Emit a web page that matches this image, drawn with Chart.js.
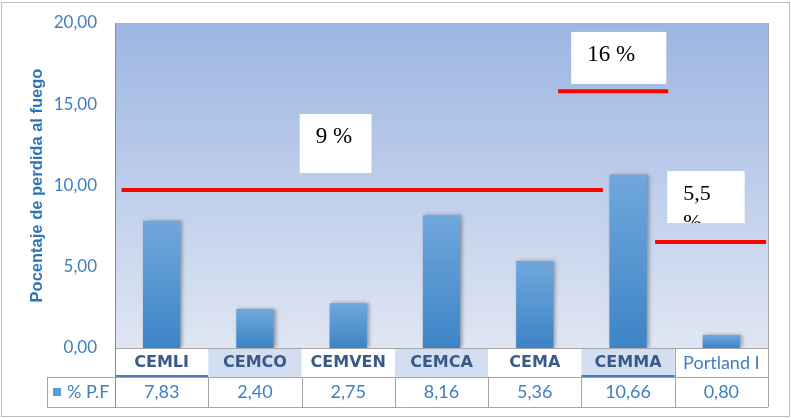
<!DOCTYPE html>
<html>
<head>
<meta charset="utf-8">
<script src="https://cdn.jsdelivr.net/npm/chart.js@4.4.0/dist/chart.umd.min.js"></script>
<style>
  html, body { margin: 0; padding: 0; background: #fff; }
  #wrap { width: 791px; height: 418px; position: relative; }
</style>
</head>
<body>
<div id="wrap"><canvas id="myChart"></canvas></div>
<script>
var categories = ['CEMLI', 'CEMCO', 'CEMVEN', 'CEMCA', 'CEMA', 'CEMMA', 'Portland I'];
var values = [7.83, 2.40, 2.75, 8.16, 5.36, 10.66, 0.80];
var seriesName = '% P.F';
var yTicks = [0, 5, 10, 15, 20];

// red limit lines (value on y axis, span in category units)
var limitValues = [9.72, 15.8, 6.52];
var limitFrom = [-0.43, 4.25, 5.29];
var limitTo = [4.73, 5.43, 6.48];

// white label boxes (text, category span, value span)
var boxTexts = [['9 %'], ['16 %'], ['5,5', '%']];
var boxFontSizes = [23, 23, 22];
var boxFrom = [1.48, 4.39, 5.42];
var boxTo = [2.25, 5.41, 6.25];
var boxTop = [14.4, 19.45, 10.89];
var boxBottom = [10.77, 16.25, 7.69];

function fmt(v) { return v.toFixed(2).replace('.', ','); }

var extras = {
    id: 'extras',
    beforeDraw: function(chart) {
        var ctx = chart.ctx, a = chart.chartArea;
        ctx.save();
        var g = ctx.createLinearGradient(0, a.top, 0, a.bottom);
        g.addColorStop(0, '#9cb5e2');
        g.addColorStop(1, '#dfe6f3');
        ctx.fillStyle = g;
        ctx.fillRect(a.left, a.top, a.right - a.left, a.bottom - a.top);
        // outer frame
        ctx.strokeStyle = '#bdbdbd';
        ctx.lineWidth = 1;
        ctx.strokeRect(1.5, 2.5, chart.width - 3, chart.height - 4);
        ctx.restore();
    },
    beforeDatasetDraw: function(chart) {
        var ctx = chart.ctx;
        ctx.save();
        ctx.shadowColor = 'rgba(0,0,0,0.35)';
        ctx.shadowBlur = 4;
        ctx.shadowOffsetX = 2;
        ctx.shadowOffsetY = 0;
    },
    afterDatasetDraw: function(chart) {
        chart.ctx.restore();
    },
    afterDatasetsDraw: function(chart) {
        var ctx = chart.ctx, x = chart.scales.x, y = chart.scales.y;
        ctx.save();
        // red lines
        ctx.strokeStyle = '#ff0000';
        ctx.lineWidth = 4;
        for (var i = 0; i < limitValues.length; i++) {
            var py = y.getPixelForValue(limitValues[i]);
            ctx.beginPath();
            ctx.moveTo(x.getPixelForValue(limitFrom[i]), py);
            ctx.lineTo(x.getPixelForValue(limitTo[i]), py);
            ctx.stroke();
        }
        // text boxes
        for (var j = 0; j < boxTexts.length; j++) {
            var l = x.getPixelForValue(boxFrom[j]), r = x.getPixelForValue(boxTo[j]);
            var t = y.getPixelForValue(boxTop[j]), b = y.getPixelForValue(boxBottom[j]);
            ctx.save();
            ctx.fillStyle = '#ffffff';
            ctx.fillRect(l, t, r - l, b - t);
            ctx.beginPath();
            ctx.rect(l, t, r - l, b - t);
            ctx.clip();
            ctx.fillStyle = '#000000';
            ctx.font = boxFontSizes[j] + 'px "Liberation Serif"';
            ctx.textBaseline = 'middle';
            ctx.textAlign = 'left';
            for (var k = 0; k < boxTexts[j].length; k++) {
                ctx.fillText(boxTexts[j][k], l + 16, t + 23 + k * 29);
            }
            ctx.restore();
        }
        ctx.restore();
    },
    afterDraw: function(chart) {
        var ctx = chart.ctx, x = chart.scales.x, a = chart.chartArea;
        var rowTop = a.bottom, rowMid = a.bottom + 29, rowBot = a.bottom + 59;
        ctx.save();
        // category label row
        for (var i = 0; i < categories.length; i++) {
            var l = x.getPixelForValue(i - 0.5), r = x.getPixelForValue(i + 0.5), c = x.getPixelForValue(i);
            if (i === 1 || i === 3 || i === 5) {
                ctx.fillStyle = '#d3dff0';
                ctx.fillRect(l, rowTop, r - l, rowMid - rowTop);
            }
            if (i === 0 || i === 5) {
                ctx.fillStyle = '#4a7ebb';
                ctx.fillRect(l, rowMid - 2, r - l, 2);
            }
            ctx.textAlign = 'center';
            ctx.textBaseline = 'middle';
            if (i === categories.length - 1) {
                ctx.font = '18px Lato';
                ctx.fillStyle = '#3f7fc1';
            } else {
                ctx.font = 'bold 16px "DejaVu Sans"';
                ctx.fillStyle = '#3a5a8a';
            }
            ctx.fillText(categories[i], c, rowTop + 15);
            // value row
            ctx.font = '18px Lato';
            ctx.fillStyle = '#3f7fc1';
            ctx.fillText(fmt(values[i]), c, rowMid + 15);
        }
        // grid lines of table
        ctx.strokeStyle = '#a6a6a6';
        ctx.lineWidth = 1;
        ctx.beginPath();
        ctx.moveTo(a.left, rowTop + 0.5); ctx.lineTo(a.right, rowTop + 0.5);
        ctx.moveTo(47, rowMid + 0.5); ctx.lineTo(a.right, rowMid + 0.5);
        ctx.moveTo(47, rowBot + 0.5); ctx.lineTo(a.right, rowBot + 0.5);
        ctx.moveTo(47.5, rowMid); ctx.lineTo(47.5, rowBot);
        for (var j = 1; j < categories.length; j++) {
            var bx = Math.round(x.getPixelForValue(j - 0.5)) + 0.5;
            ctx.moveTo(bx, rowMid); ctx.lineTo(bx, rowBot);
        }
        var pbx = Math.round(x.getPixelForValue(5.5)) + 0.5;
        ctx.moveTo(pbx, rowTop); ctx.lineTo(pbx, rowMid);
        ctx.moveTo(Math.round(a.right) + 0.5, a.top); ctx.lineTo(Math.round(a.right) + 0.5, rowBot);
        ctx.stroke();
        ctx.strokeStyle = '#8c8c8c';
        ctx.beginPath();
        ctx.moveTo(Math.round(a.left) + 0.5, a.top); ctx.lineTo(Math.round(a.left) + 0.5, rowBot);
        ctx.stroke();
        // legend key
        ctx.fillStyle = '#5b9bd5';
        ctx.fillRect(53, rowMid + 11, 8, 8);
        ctx.font = '18px Lato';
        ctx.fillStyle = '#3f7fc1';
        ctx.textAlign = 'left';
        ctx.fillText(seriesName, 67, rowMid + 15);
        ctx.restore();
    }
};

document.addEventListener('DOMContentLoaded', function() {
    var ctx = document.getElementById('myChart').getContext('2d');
    var myChart = new Chart(ctx, {
        type: 'bar',
        data: {
            labels: categories,
            datasets: [{
                label: seriesName,
                data: values,
                backgroundColor: function(c) {
                    var ch = c.chart, y = ch.scales.y;
                    if (!y || !ch.chartArea) return '#5b9bd5';
                    var top = y.getPixelForValue(values[c.dataIndex]);
                    var bot = y.getPixelForValue(0);
                    if (!isFinite(top) || !isFinite(bot) || top === bot) return '#5b9bd5';
                    var g = ch.ctx.createLinearGradient(0, top, 0, bot);
                    g.addColorStop(0, '#70a7dc');
                    g.addColorStop(1, '#3d84c6');
                    return g;
                },
                borderWidth: 0,
                barPercentage: 0.4,
                categoryPercentage: 1
            }]
        },
        options: {
            responsive: true,
            maintainAspectRatio: false,
            animation: false,
            layout: { padding: { left: 24, right: 23, top: 23, bottom: 70 } },
            plugins: {
                legend: { display: false },
                tooltip: { enabled: false }
            },
            scales: {
                x: { display: false },
                y: {
                    min: 0,
                    max: 20,
                    afterBuildTicks: function(s) { s.ticks = yTicks.map(function(v) { return { value: v }; }); },
                    afterFit: function(s) { s.width = 91; s.paddingTop = 0; s.paddingBottom = 0; },
                    grid: { display: false, drawTicks: false },
                    border: { display: false },
                    ticks: {
                        padding: 18,
                        color: '#3f7fc1',
                        font: { family: 'Lato', size: 17 },
                        callback: function(v) { return fmt(v); }
                    },
                    title: {
                        display: true,
                        text: 'Pocentaje de perdida al fuego',
                        color: '#2e75b6',
                        font: { family: 'Liberation Sans', size: 16.5, weight: 'bold' }
                    }
                }
            }
        },
        plugins: [extras]
    });
});
</script>
</body>
</html>
